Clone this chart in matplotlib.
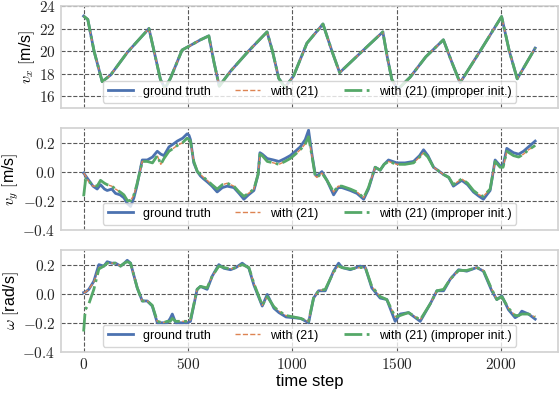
"""
Velocity estimation comparison: ground truth vs. estimator (21),
with proper and improper initialisation.
"""

import matplotlib
matplotlib.use('Agg')
import matplotlib.pyplot as plt
from matplotlib.ticker import FuncFormatter, MultipleLocator

# ---------------------------------------------------------------- data
# longitudinal velocity v_x (all three curves coincide at this scale)
vx_t = [0, 20, 50, 89, 130, 210, 313, 340, 368, 390, 416, 472, 560, 600,
        625, 650, 703, 790, 879, 905, 935, 965, 1006, 1070, 1147, 1190,
        1227, 1330, 1434, 1455, 1477, 1505, 1565, 1640, 1724, 1765, 1804,
        1900, 2003, 2040, 2078, 2164]
vx_true = [23.1, 22.8, 20.0, 17.3, 17.9, 19.9, 22.0, 19.8, 17.5, 16.7, 17.6,
           20.1, 21.0, 21.35, 19.0, 16.9, 18.2, 20.0, 21.7, 20.0, 17.6, 16.8,
           17.8, 20.7, 22.4, 20.0, 18.1, 19.9, 21.7, 19.5, 17.5, 16.6, 17.7,
           19.5, 21.0, 19.0, 17.2, 20.0, 23.06, 20.0, 17.55, 20.27]
vx_est = list(vx_true)
vx_est_bad = list(vx_true)

# lateral velocity v_y
vy_t = [0, 10, 25, 45, 65, 81, 100, 113, 135, 153, 175, 193, 210, 225, 241,
        255, 265, 281, 305, 330, 353, 370, 385, 409, 430, 449, 475, 496, 505,
        512, 528, 545, 560, 575, 592, 615, 640, 665, 688, 720, 745, 768, 790,
        816, 836, 845, 856, 880, 910, 936, 965, 990, 1015, 1038, 1062, 1078,
        1094, 1110, 1118, 1142, 1166, 1198, 1220, 1238, 1278, 1310, 1342,
        1365, 1397, 1421, 1440, 1461, 1501, 1540, 1581, 1610, 1629, 1650,
        1677, 1725, 1750, 1772, 1812, 1840, 1868, 1895, 1916, 1948, 1972,
        1996, 2010, 2028, 2060, 2085, 2108, 2132, 2164]
vy_true = [-0.01, -0.03, -0.06, -0.10, -0.12, -0.09, -0.12, -0.13, -0.12,
           -0.15, -0.16, -0.18, -0.22, -0.24, -0.18, -0.10, -0.03, 0.08, 0.08,
           0.10, 0.14, 0.12, 0.11, 0.17, 0.19, 0.21, 0.23, 0.26, 0.25, 0.22,
           0.06, 0.0, -0.03, -0.05, -0.07, -0.10, -0.14, -0.11, -0.10, -0.11,
           -0.15, -0.19, -0.16, -0.13, -0.02, 0.13, 0.12, 0.09, 0.08, 0.07,
           0.09, 0.11, 0.14, 0.17, 0.22, 0.285, 0.12, -0.02, -0.03, 0.0,
           -0.06, -0.16, -0.11, -0.11, -0.13, -0.15, -0.19, -0.12, 0.03, 0.01,
           0.05, 0.08, 0.06, 0.06, 0.07, 0.11, 0.15, 0.11, 0.03, -0.02, -0.04,
           -0.10, -0.06, -0.09, -0.14, -0.17, -0.19, -0.13, 0.08, 0.04, 0.04,
           0.16, 0.13, 0.12, 0.14, 0.17, 0.21]
vy_est = [-0.01, -0.03, -0.07, -0.10, -0.10, -0.06, -0.08, -0.09, -0.10,
          -0.12, -0.14, -0.16, -0.20, -0.20, -0.16, -0.09, -0.03, 0.07, 0.07,
          0.06, 0.11, 0.05, 0.09, 0.14, 0.16, 0.18, 0.20, 0.23, 0.22, 0.21,
          0.07, 0.0, -0.02, -0.04, -0.06, -0.09, -0.12, -0.09, -0.08, -0.10,
          -0.14, -0.17, -0.15, -0.12, -0.02, 0.12, 0.11, 0.07, 0.06, 0.05,
          0.07, 0.09, 0.12, 0.15, 0.19, 0.24, 0.11, -0.03, -0.04, -0.01,
          -0.06, -0.14, -0.10, -0.10, -0.12, -0.14, -0.18, -0.11, 0.03, 0.01,
          0.05, 0.07, 0.05, 0.05, 0.06, 0.10, 0.13, 0.10, 0.03, -0.02, -0.04,
          -0.09, -0.05, -0.08, -0.13, -0.16, -0.17, -0.12, 0.07, 0.03, 0.03,
          0.14, 0.11, 0.10, 0.12, 0.15, 0.18]
vy_est_bad = [-0.17, -0.05, -0.07, -0.09, -0.10, -0.06, -0.08, -0.09, -0.10,
              -0.12, -0.14, -0.16, -0.20, -0.20, -0.16, -0.09, -0.03, 0.07,
              0.07, 0.06, 0.11, 0.05, 0.09, 0.14, 0.16, 0.18, 0.20, 0.23, 0.22,
              0.21, 0.07, 0.0, -0.02, -0.04, -0.06, -0.09, -0.12, -0.09, -0.08,
              -0.10, -0.14, -0.17, -0.15, -0.12, -0.02, 0.12, 0.11, 0.07, 0.06,
              0.05, 0.07, 0.09, 0.12, 0.15, 0.19, 0.24, 0.11, -0.03, -0.04,
              -0.01, -0.06, -0.14, -0.10, -0.10, -0.12, -0.14, -0.18, -0.11,
              0.03, 0.01, 0.05, 0.07, 0.05, 0.05, 0.06, 0.10, 0.13, 0.10, 0.03,
              -0.02, -0.04, -0.09, -0.05, -0.08, -0.13, -0.16, -0.17, -0.12,
              0.07, 0.03, 0.03, 0.14, 0.11, 0.10, 0.12, 0.15, 0.18]

# yaw rate omega
w_t = [0, 8, 25, 49, 73, 97, 113, 135, 153, 177, 195, 209, 225, 240, 257,
       281, 305, 329, 353, 380, 401, 415, 425, 441, 470, 496, 512, 544, 560,
       592, 616, 648, 672, 704, 730, 760, 792, 816, 856, 880, 912, 936, 970,
       1006, 1040, 1078, 1102, 1126, 1158, 1198, 1222, 1238, 1278, 1326, 1350,
       1381, 1421, 1453, 1493, 1517, 1557, 1613, 1661, 1693, 1725, 1757, 1797,
       1836, 1884, 1916, 1956, 1980, 2004, 2036, 2068, 2085, 2100, 2132, 2164]
w_true = [0.007, 0.01, 0.03, 0.086, 0.20, 0.19, 0.22, 0.21, 0.21, 0.19, 0.21,
          0.23, 0.21, 0.13, 0.04, -0.05, -0.05, -0.085, -0.20, -0.20, -0.20,
          -0.17, -0.14, -0.20, -0.20, -0.20, -0.19, 0.03, 0.05, 0.03, 0.12,
          0.20, 0.175, 0.165, 0.18, 0.21, 0.175, 0.06, -0.085, -0.005, -0.10,
          -0.13, -0.16, -0.165, -0.17, -0.20, -0.03, 0.02, 0.02, 0.155, 0.21,
          0.18, 0.165, 0.19, 0.18, 0.04, -0.03, -0.04, -0.19, -0.14, -0.13,
          -0.19, -0.07, 0.02, 0.02, 0.10, 0.165, 0.155, 0.18, 0.155, 0.02,
          -0.04, -0.015, -0.11, -0.165, -0.15, -0.12, -0.14, -0.175]
w_est = [0.007, 0.01, 0.03, 0.08, 0.18, 0.19, 0.21, 0.21, 0.21, 0.19, 0.21,
         0.22, 0.21, 0.13, 0.04, -0.05, -0.05, -0.08, -0.19, -0.20, -0.19,
         -0.19, -0.17, -0.19, -0.19, -0.19, -0.18, 0.03, 0.05, 0.04, 0.12,
         0.19, 0.18, 0.17, 0.18, 0.20, 0.18, 0.07, -0.08, -0.02, -0.09, -0.12,
         -0.15, -0.16, -0.17, -0.19, -0.03, 0.02, 0.03, 0.15, 0.19, 0.18,
         0.17, 0.18, 0.18, 0.05, -0.02, -0.04, -0.16, -0.15, -0.13, -0.18,
         -0.07, 0.02, 0.03, 0.10, 0.16, 0.16, 0.18, 0.16, 0.03, -0.04, -0.02,
         -0.10, -0.15, -0.15, -0.14, -0.14, -0.16]
w_est_bad = [-0.26, -0.11, -0.07, 0.03, 0.17, 0.19, 0.21, 0.21, 0.21, 0.19,
             0.21, 0.22, 0.21, 0.13, 0.04, -0.05, -0.05, -0.08, -0.19, -0.20,
             -0.19, -0.19, -0.17, -0.19, -0.19, -0.19, -0.18, 0.03, 0.05, 0.04,
             0.12, 0.19, 0.18, 0.17, 0.18, 0.20, 0.18, 0.07, -0.08, -0.02,
             -0.09, -0.12, -0.15, -0.16, -0.17, -0.19, -0.03, 0.02, 0.03, 0.15,
             0.19, 0.18, 0.17, 0.18, 0.18, 0.05, -0.02, -0.04, -0.16, -0.15,
             -0.13, -0.18, -0.07, 0.02, 0.03, 0.10, 0.16, 0.16, 0.18, 0.16,
             0.03, -0.04, -0.02, -0.10, -0.15, -0.15, -0.14, -0.14, -0.16]

labels = ['ground truth', 'with (21)', 'with (21) (improper init.)']
colors = ['#4C72B0', '#DD8452', '#55A868']

# ---------------------------------------------------------------- style
plt.rcParams['font.family'] = ['Liberation Sans', 'DejaVu Sans']
plt.rcParams['mathtext.fontset'] = 'cm'

panels = [
    (vx_t, vx_true, vx_est, vx_est_bad, r'$v_x$ $[$m/s$]$', (15, 24), 2, '{:.0f}'),
    (vy_t, vy_true, vy_est, vy_est_bad, r'$v_y$ $[$m/s$]$', (-0.4, 0.3), 0.2, '{:.1f}'),
    (w_t, w_true, w_est, w_est_bad, r'$\omega$ $[$rad/s$]$', (-0.4, 0.3), 0.2, '{:.1f}'),
]

fig, axes = plt.subplots(3, 1, figsize=(5.6, 3.94), dpi=100, sharex=True)
fig.subplots_adjust(left=0.109, right=0.996, top=0.985, bottom=0.107, hspace=0.2)

for ax, (t, y_true, y_est, y_bad, ylabel, ylim, step, fmt) in zip(axes, panels):
    ax.plot(t, y_true, '-', color=colors[0], lw=2.0, label=labels[0])
    ax.plot(t, y_est, '--', color=colors[1], lw=1.0, label=labels[1])
    ax.plot(t, y_bad, '-.', color=colors[2], lw=2.0, label=labels[2])

    ax.set_ylim(*ylim)
    ax.yaxis.set_major_locator(MultipleLocator(step))
    ax.yaxis.set_major_formatter(FuncFormatter(lambda v, p, f=fmt: '$' + f.format(v) + '$'))
    ax.set_ylabel(ylabel, fontsize=11.5, labelpad=1)

    ax.grid(True, color='0.35', linestyle='--', linewidth=0.8)
    ax.set_axisbelow(True)
    for s in ax.spines.values():
        s.set_color('0.82')
        s.set_linewidth(1.2)
    ax.tick_params(length=0, labelsize=11, labelcolor='0.15', pad=4)

    ax.legend(loc='lower center', ncol=3, fontsize=9, framealpha=0.8,
              borderaxespad=0.4, edgecolor='0.8')

axes[-1].xaxis.set_major_locator(MultipleLocator(500))
axes[-1].xaxis.set_major_formatter(FuncFormatter(lambda v, p: '${:.0f}$'.format(v)))
axes[-1].set_xlabel('time step', fontsize=12, labelpad=1)

plt.savefig('out.png', dpi=100)
plt.close()
